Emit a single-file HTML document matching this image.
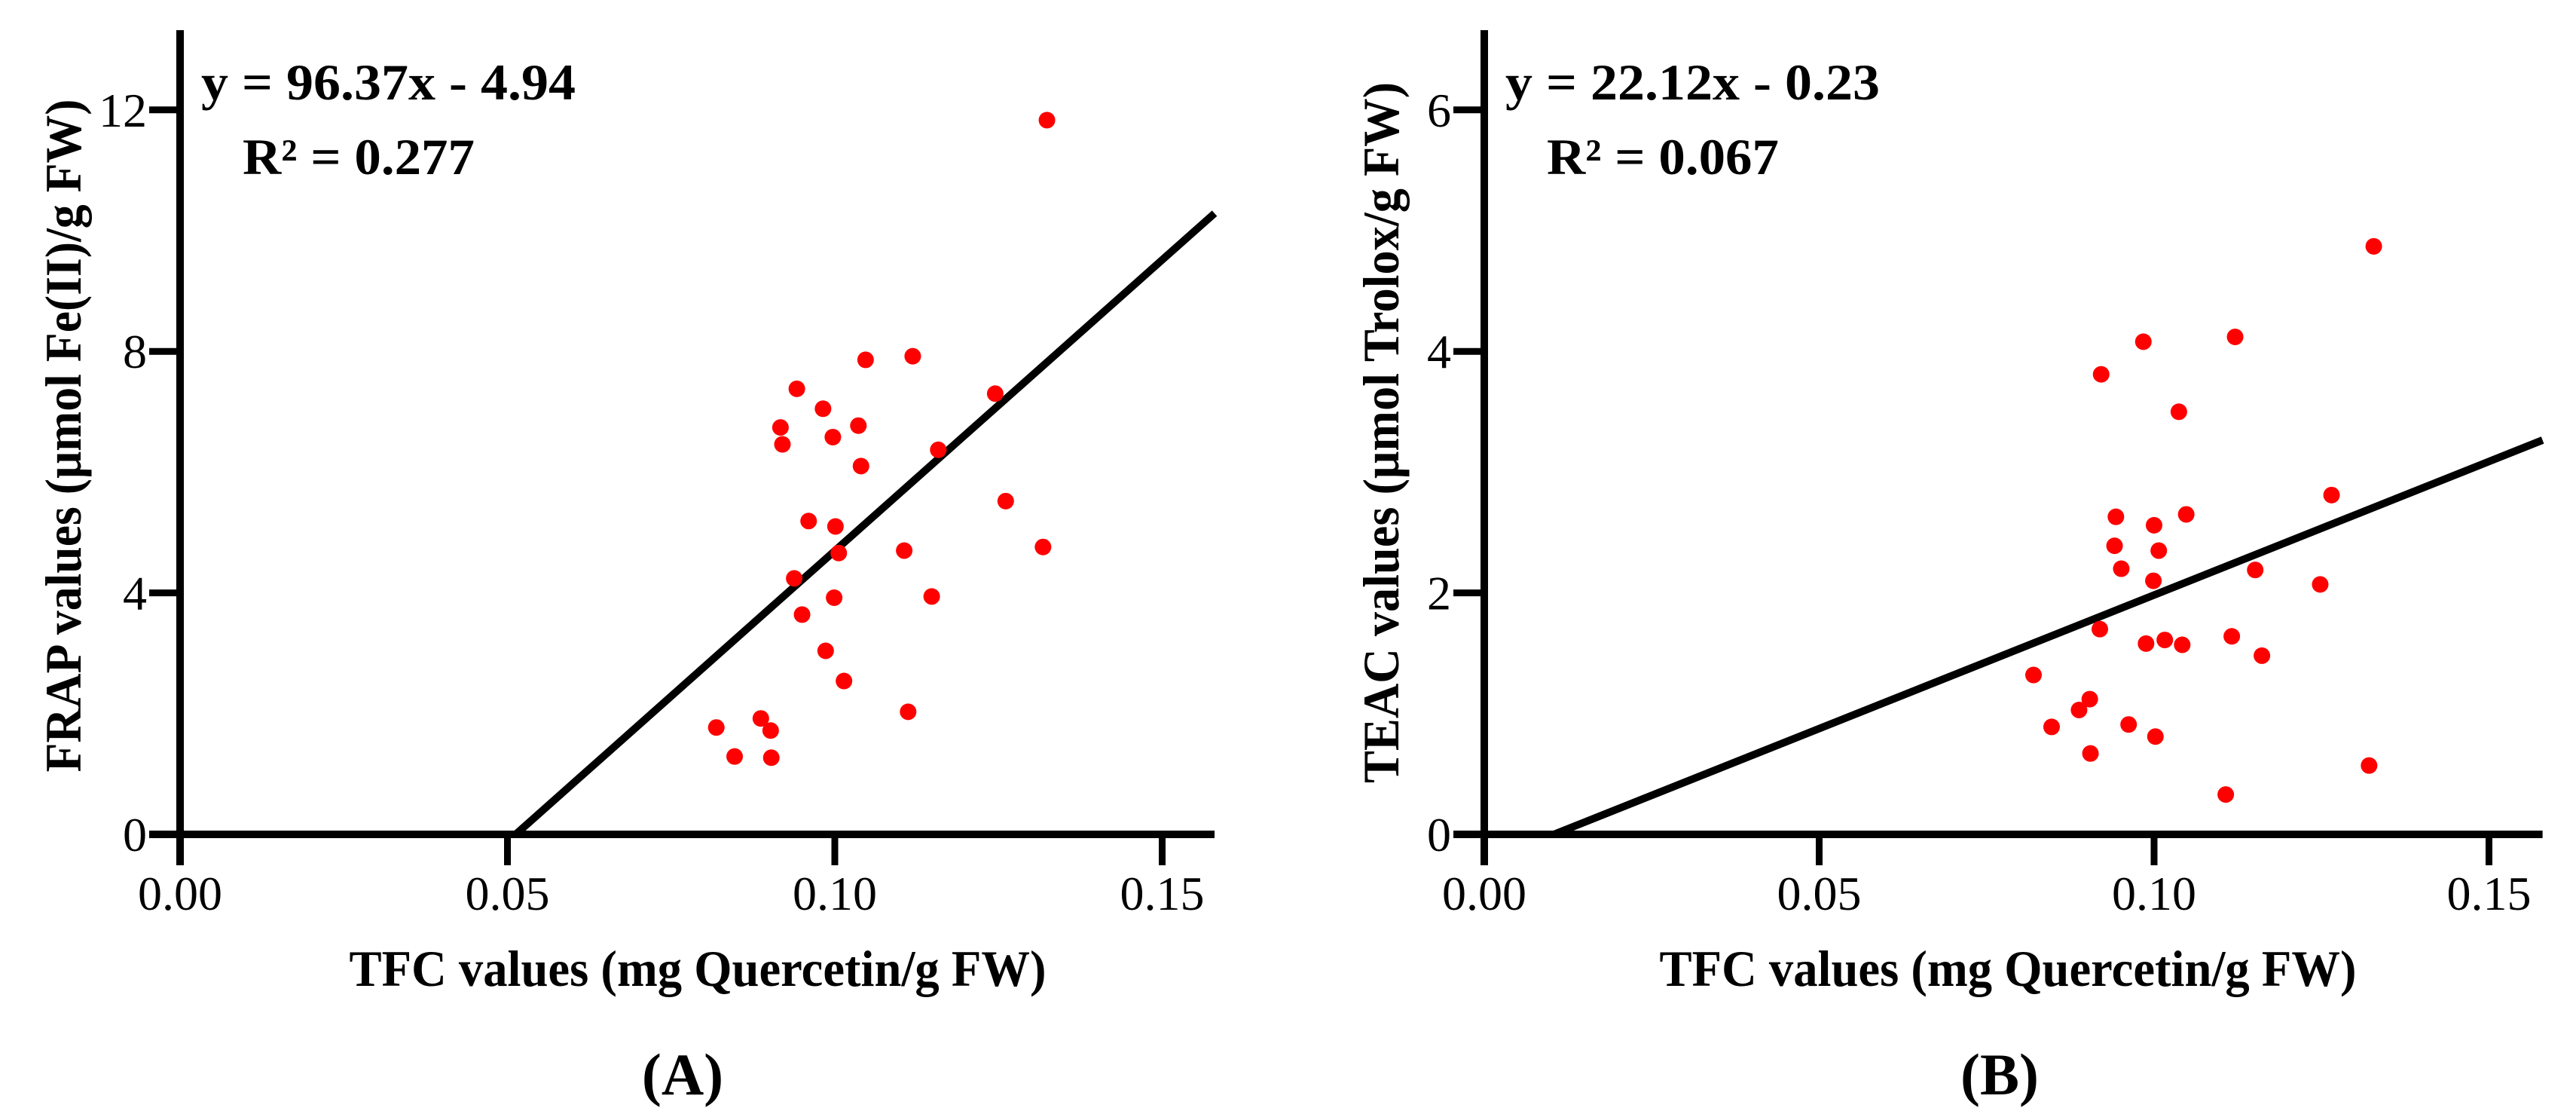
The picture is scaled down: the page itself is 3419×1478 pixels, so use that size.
<!DOCTYPE html>
<html><head><meta charset="utf-8"><style>
html,body{margin:0;padding:0;background:#fff;}
svg{display:block;}
text{font-family:"Liberation Serif",serif;fill:#000;}
</style></head><body>
<svg id="chart" width="3419" height="1478" viewBox="0 0 3419 1478" xmlns="http://www.w3.org/2000/svg" font-family="Liberation Serif, serif"></svg>
<script>
// Panel A data (TFC vs FRAP)
const xTicksA = [0.00, 0.05, 0.10, 0.15];
const xTickLabelsA = ["0.00", "0.05", "0.10", "0.15"];
const yTicksA = [0, 4, 8, 12];
const tfcA = [0.1324,0.1119,0.1047,0.0942,0.1245,0.0982,0.0917,0.1036,0.0997,0.0920,0.1158,0.1040,0.1261,0.0960,0.1001,0.1006,0.1106,0.1318,0.0938,0.0999,0.1148,0.0950,0.0986,0.1014,0.1112,0.0819,0.0887,0.0902,0.0847,0.0903];
const frapA = [11.83,7.92,7.86,7.38,7.30,7.05,6.74,6.77,6.58,6.46,6.37,6.10,5.52,5.19,5.10,4.66,4.70,4.76,4.24,3.92,3.94,3.64,3.04,2.54,2.03,1.77,1.92,1.72,1.29,1.27];
const slopeA = 96.37, interceptA = -4.94;

// Panel B data (TFC vs TEAC)
const xTicksB = [0.00, 0.05, 0.10, 0.15];
const xTickLabelsB = ["0.00", "0.05", "0.10", "0.15"];
const yTicksB = [0, 2, 4, 6];
const tfcB = [0.1328,0.1121,0.0984,0.0921,0.1037,0.1265,0.0943,0.1048,0.1000,0.0941,0.1007,0.0951,0.1151,0.0999,0.1248,0.0919,0.1116,0.0988,0.1016,0.1042,0.1161,0.0820,0.0904,0.0888,0.0847,0.0962,0.1002,0.0905,0.1321,0.1107];
const teacB = [4.87,4.12,4.08,3.81,3.50,2.81,2.63,2.65,2.56,2.39,2.35,2.20,2.19,2.10,2.07,1.70,1.64,1.58,1.61,1.57,1.48,1.32,1.12,1.03,0.89,0.91,0.81,0.67,0.57,0.33];
const slopeB = 22.12, interceptB = -0.23;

const NS = "http://www.w3.org/2000/svg";
const svg = document.getElementById("chart");
function mk(tag, attrs, parent){
  const e = document.createElementNS(NS, tag);
  for (const k in attrs) e.setAttribute(k, attrs[k]);
  (parent || svg).appendChild(e);
  return e;
}

function panel(cfg){
  const g = mk("g", {});
  
  
  const sx = v => cfg.x0 + (v - 0) / 0.1 * cfg.pxPer01;
  const sy = v => cfg.y0 - v * cfg.pxPerUnit;
  const xmax = 0.158;

  const xs = -cfg.intercept / cfg.slope;
  const line = mk("line", {x1: sx(xs), y1: sy(0), x2: sx(xmax), y2: sy(cfg.slope*xmax + cfg.intercept), stroke:"#000", "stroke-width":10}, g);
  
  

  const xa = mk("line", {x1: cfg.x0 - 41, y1: cfg.y0, x2: sx(xmax), y2: cfg.y0, stroke:"#000", "stroke-width":10}, g);
  
  
  const ya = mk("line", {x1: cfg.x0, y1: cfg.y0 + 41, x2: cfg.x0, y2: 40, stroke:"#000", "stroke-width":10}, g);
  
  

  cfg.xTicks.forEach((t, i) => {
    const tk = mk("line", {x1: sx(t), y1: cfg.y0, x2: sx(t), y2: cfg.y0 + 41, stroke:"#000", "stroke-width":9}, g);
    
    
    const lb = mk("text", {x: sx(t), y: cfg.y0 + 100, "font-size":64, "text-anchor":"middle", "font-family":"Liberation Serif, serif"}, g);
    lb.textContent = cfg.xLabels[i];
    
    
  });
  cfg.yTicks.forEach(t => {
    const tk = mk("line", {x1: cfg.x0 - 41, y1: sy(t), x2: cfg.x0, y2: sy(t), stroke:"#000", "stroke-width":9}, g);
    
    
    const lb = mk("text", {x: cfg.x0 - 44, y: sy(t) + 22, "font-size":64, "text-anchor":"end", "font-family":"Liberation Serif, serif"}, g);
    lb.textContent = String(t);
    
    
  });

  cfg.xs.forEach((v, i) => {
    const c = mk("circle", {cx: sx(v), cy: sy(cfg.ys[i]), r: 11, fill:"#ff0000"}, g);
    
    
  });

  const eq = mk("text", {x: cfg.x0 + 28, y: 132, "font-size":68, "font-weight":"bold", textLength: cfg.eqLen, lengthAdjust:"spacingAndGlyphs", "font-family":"Liberation Serif, serif"}, g);
  eq.textContent = cfg.eq;
  
  
  const r2 = mk("text", {x: cfg.x0 + 83, y: 231, "font-size":68, "font-weight":"bold", textLength: 308, lengthAdjust:"spacingAndGlyphs", "font-family":"Liberation Serif, serif"}, g);
  r2.textContent = cfg.r2;
  
  

  const xt = mk("text", {x: cfg.xTitleX, y: 1308, "font-size":68, "font-weight":"bold", "text-anchor":"middle", textLength: 925, lengthAdjust:"spacingAndGlyphs", "font-family":"Liberation Serif, serif"}, g);
  xt.textContent = "TFC values (mg Quercetin/g FW)";
  
  
  const yt = mk("text", {x: 0, y: 0, "font-size":68, "font-weight":"bold", "text-anchor":"middle", transform:`translate(${cfg.yTitleX},${cfg.yTitleY}) rotate(-90)`, textLength: cfg.yTitleLen, lengthAdjust:"spacingAndGlyphs", "font-family":"Liberation Serif, serif"}, g);
  yt.textContent = cfg.yTitle;
  
  

  const pl = mk("text", {x: cfg.labelX, y: 1452, "font-size":78, "font-weight":"bold", "text-anchor":"middle", "font-family":"Liberation Serif, serif"}, g);
  pl.textContent = cfg.label;
  
  
}

panel({name:"panel-a", x0:239, y0:1107, pxPer01:869, pxPerUnit:80.1,
  xTicks:xTicksA, xLabels:xTickLabelsA, yTicks:yTicksA, xs:tfcA, ys:frapA,
  slope:slopeA, intercept:interceptA, eq:"y = 96.37x - 4.94", eqLen:497, r2:"R² = 0.277",
  xTitleX:926, yTitleX:107, yTitleY:578, yTitleLen:893, yTitle:"FRAP values (μmol Fe(II)/g FW)",
  labelX:906, label:"(A)"});
panel({name:"panel-b", x0:1970, y0:1107, pxPer01:889, pxPerUnit:160.2,
  xTicks:xTicksB, xLabels:xTickLabelsB, yTicks:yTicksB, xs:tfcB, ys:teacB,
  slope:slopeB, intercept:interceptB, eq:"y = 22.12x - 0.23", eqLen:497, r2:"R² = 0.067",
  xTitleX:2665, yTitleX:1856, yTitleY:574, yTitleLen:930, yTitle:"TEAC values (μmol Trolox/g FW)",
  labelX:2654, label:"(B)"});
</script>
</body></html>
